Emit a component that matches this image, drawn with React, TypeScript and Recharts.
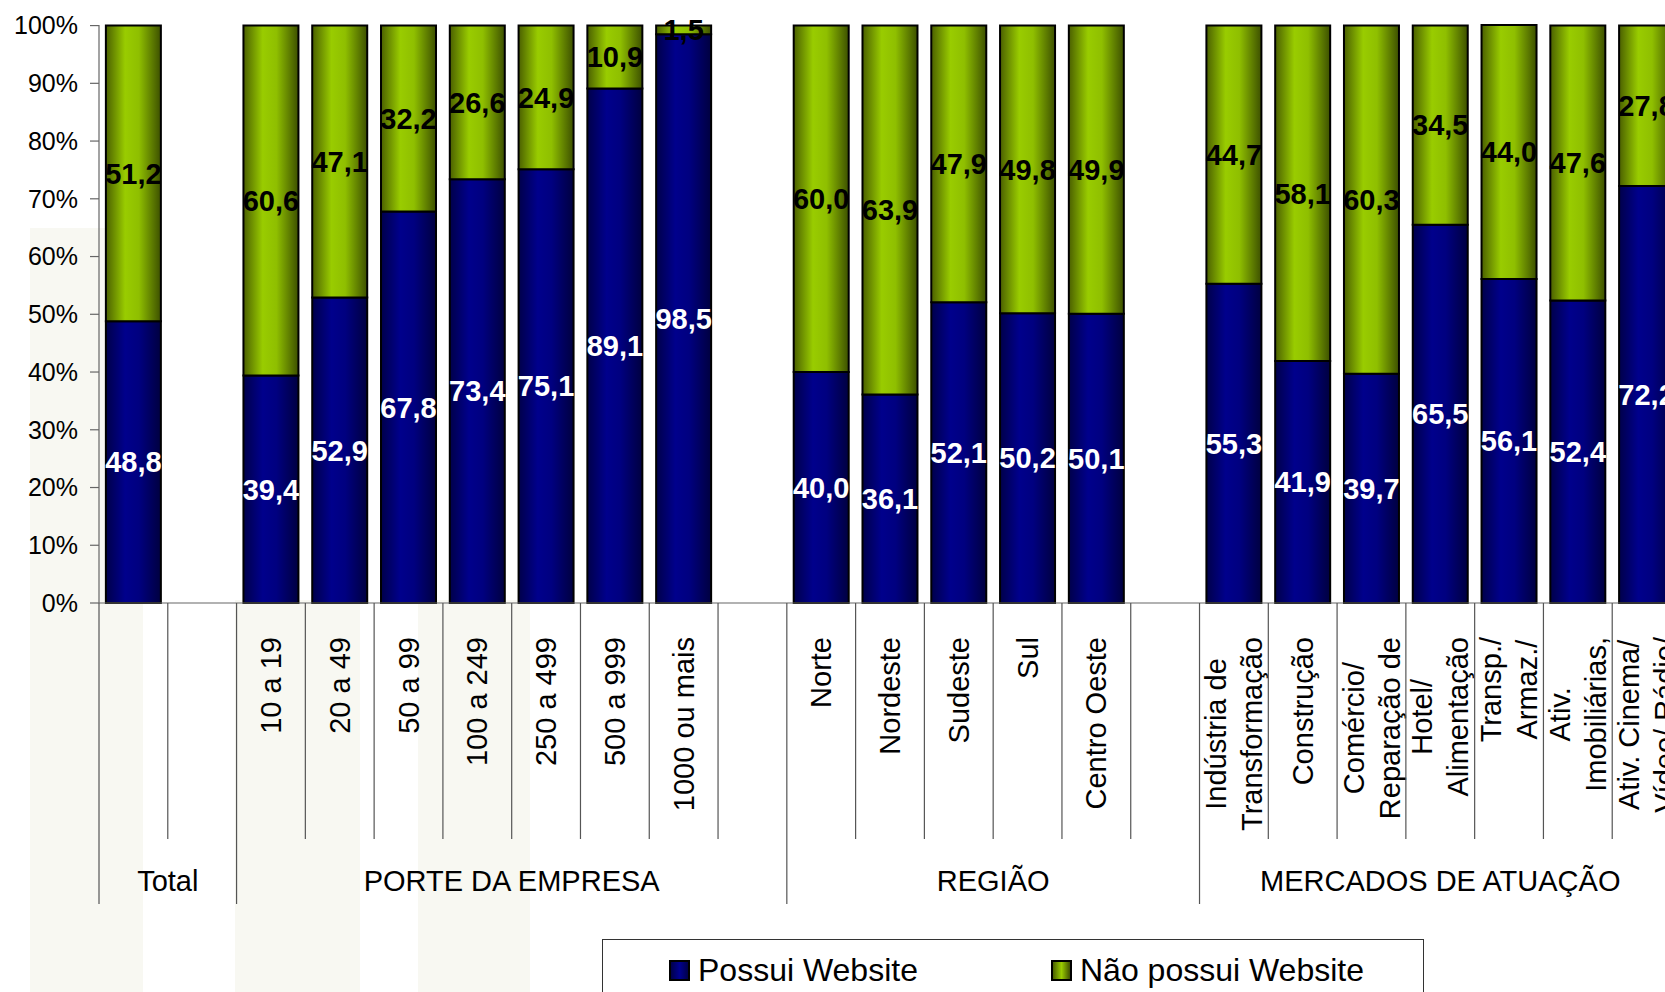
import { BarChart, Bar, XAxis, YAxis, LabelList } from 'recharts'

const categoryLabels = [
  '', '',
  '10 a 19', '20 a 49', '50 a 99', '100 a 249', '250 a 499', '500 a 999', '1000 ou mais', '',
  'Norte', 'Nordeste', 'Sudeste', 'Sul', 'Centro Oeste', '',
  'Indústria de\nTransformação', 'Construção', 'Comércio/\nReparação de', 'Hotel/\nAlimentação',
  'Transp./\nArmaz./', 'Ativ.\nImobiliárias,', 'Ativ. Cinema/\nVídeo/ Rádio/',
]
const possui = [48.8, null, 39.4, 52.9, 67.8, 73.4, 75.1, 89.1, 98.5, null, 40.0, 36.1, 52.1, 50.2, 50.1, null, 55.3, 41.9, 39.7, 65.5, 56.1, 52.4, 72.2]
const naoPossui = [51.2, null, 60.6, 47.1, 32.2, 26.6, 24.9, 10.9, 1.5, null, 60.0, 63.9, 47.9, 49.8, 49.9, null, 44.7, 58.1, 60.3, 34.5, 44.0, 47.6, 27.8]
const groupNames = ['Total', 'PORTE DA EMPRESA', 'REGIÃO', 'MERCADOS DE ATUAÇÃO']
const groupSizes = [2, 8, 6, 7]
const yTicks = [0, 10, 20, 30, 40, 50, 60, 70, 80, 90, 100]

const data = categoryLabels.map((label, i) => ({
  id: `c${i}`,
  label,
  possui: possui[i],
  naoPossui: naoPossui[i],
}))

const groupStarts = groupSizes.map((_, i) => groupSizes.slice(0, i).reduce((a, b) => a + b, 0))

const FONT = '"Liberation Sans", Arial, Helvetica, sans-serif'
const LABEL_SIZE = 29

let measureCtx: CanvasRenderingContext2D | null = null
function textWidth(s: string) {
  if (!measureCtx) measureCtx = document.createElement('canvas').getContext('2d')
  if (!measureCtx) return s.length * 15
  measureCtx.font = `${LABEL_SIZE}px ${FONT}`
  return measureCtx.measureText(s).width
}

const fmt = (v: any) => (v == null ? '' : Number(v).toFixed(1).replace('.', ','))

function CategoryTick(props: any) {
  const { x, y, payload } = props
  const i = payload.index
  const half = payload.offset || 34
  const left = x - half
  const gi = groupStarts.indexOf(i)
  const lines = (categoryLabels[i] || '').split('\n').filter(Boolean)
  const top = y + 34
  const longest = Math.max(0, ...lines.map(textWidth))
  const lineGap = 36
  const isLast = i === categoryLabels.length - 1

  return (
    <g>
      <line x1={left} x2={left} y1={y} y2={y + (gi >= 0 ? 301 : 236)} stroke="#555" strokeWidth={1.2} />
      {isLast && <line x1={x + half} x2={x + half} y1={y} y2={y + 301} stroke="#555" strokeWidth={1.2} />}
      {lines.length === 1 && (
        <text
          x={x}
          y={top}
          transform={`rotate(-90, ${x}, ${top})`}
          textAnchor="end"
          dy="0.35em"
          fontSize={LABEL_SIZE}
          fill="#000"
        >
          {lines[0]}
        </text>
      )}
      {lines.length > 1 && lines.map((ln, k) => {
        const cy = top + longest / 2
        const dx = (k - (lines.length - 1) / 2) * lineGap
        return (
          <text
            key={k}
            x={x + dx}
            y={cy}
            transform={`rotate(-90, ${x + dx}, ${cy})`}
            textAnchor="middle"
            dy="0.35em"
            fontSize={LABEL_SIZE}
            fill="#000"
          >
            {ln}
          </text>
        )
      })}
      {gi >= 0 && (
        <text x={left + groupSizes[gi] * half} y={y + 288} textAnchor="middle" fontSize={LABEL_SIZE} fill="#000">
          {groupNames[gi]}
        </text>
      )}
    </g>
  )
}

function LegendBox() {
  const item = (grad: string, text: string, left: number) => (
    <div style={{ position: 'absolute', left, top: 11, display: 'flex', alignItems: 'center' }}>
      <div style={{ width: 21, height: 21, border: '2px solid #000', background: grad, boxSizing: 'border-box', marginRight: 8 }} />
      <span style={{ fontSize: 32, lineHeight: '38px' }}>{text}</span>
    </div>
  )
  return (
    <div
      style={{
        position: 'absolute', left: 602, top: 939, width: 822, height: 70,
        border: '1.5px solid #333', background: '#fff', boxSizing: 'border-box',
      }}
    >
      {item('linear-gradient(90deg,#00004a,#000090,#00004a)', 'Possui Website', 66)}
      {item('linear-gradient(90deg,#4b6000,#99cc00,#3f5000)', 'Não possui Website', 448)}
    </div>
  )
}

export default function App() {
  return (
    <div
      style={{
        position: 'absolute', left: 0, top: 0, width: 1665, height: 992,
        overflow: 'hidden', background: '#fff', fontFamily: FONT,
      }}
    >
      <svg width={1665} height={992} style={{ position: 'absolute', left: 0, top: 0 }}>
        <rect x={30} y={228} width={113} height={764} fill="#f8f8f2" />
        <rect x={235} y={600} width={125} height={392} fill="#f8f8f2" />
        <rect x={418} y={600} width={112} height={392} fill="#f8f8f2" />
      </svg>
      <div style={{ position: 'absolute', left: 0, top: 0 }}>
        <BarChart
          width={1700}
          height={992}
          data={data}
          margin={{ top: 25, right: 19, left: 0, bottom: 0 }}
          barCategoryGap="10%"
        >
          <defs>
            <linearGradient id="gBlue" x1="0" y1="0" x2="1" y2="0">
              <stop offset="0%" stopColor="#00004a" />
              <stop offset="35%" stopColor="#00008c" />
              <stop offset="60%" stopColor="#000080" />
              <stop offset="100%" stopColor="#000040" />
            </linearGradient>
            <linearGradient id="gGreen" x1="0" y1="0" x2="1" y2="0">
              <stop offset="0%" stopColor="#4b6000" />
              <stop offset="35%" stopColor="#99cc00" />
              <stop offset="60%" stopColor="#8fbf00" />
              <stop offset="100%" stopColor="#3d5000" />
            </linearGradient>
          </defs>
          <XAxis
            dataKey="id"
            type="category"
            height={389}
            interval={0}
            tickSize={0}
            tickMargin={0}
            tickLine={false}
            axisLine={{ stroke: '#666', strokeWidth: 1.2 }}
            tick={<CategoryTick />}
          />
          <YAxis
            width={99}
            domain={[0, 100]}
            ticks={yTicks}
            tickFormatter={(v) => `${v}%`}
            tickSize={9}
            tickMargin={12}
            tick={{ fill: '#000', fontSize: 25 }}
            axisLine={{ stroke: '#666', strokeWidth: 1.2 }}
            tickLine={{ stroke: '#666', strokeWidth: 1.2 }}
          />
          <Bar dataKey="possui" stackId="s" fill="url(#gBlue)" stroke="#000" strokeWidth={2} isAnimationActive={false}>
            <LabelList dataKey="possui" position="center" formatter={fmt} fill="#fff" fontSize={LABEL_SIZE} fontWeight="bold" />
          </Bar>
          <Bar dataKey="naoPossui" stackId="s" fill="url(#gGreen)" stroke="#000" strokeWidth={2} isAnimationActive={false}>
            <LabelList dataKey="naoPossui" position="center" formatter={fmt} fill="#000" fontSize={LABEL_SIZE} fontWeight="bold" />
          </Bar>
        </BarChart>
      </div>
      <LegendBox />
    </div>
  )
}
